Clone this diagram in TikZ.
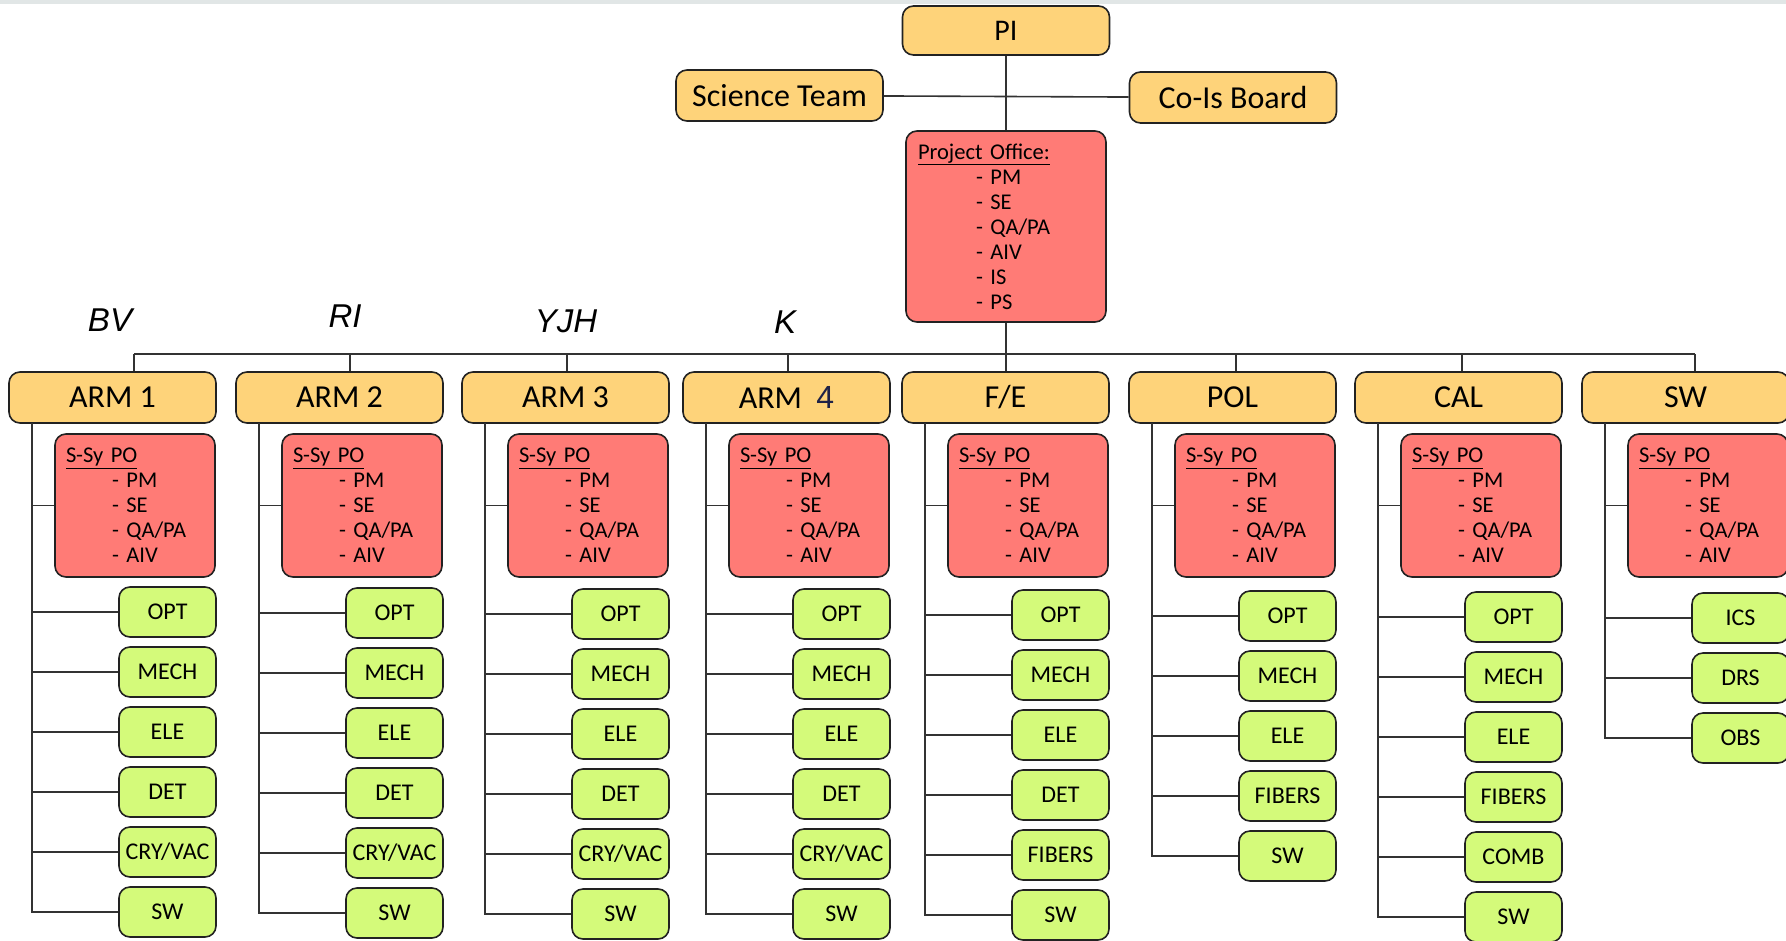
\documentclass[tikz,border=0pt]{standalone}
\usepackage{fontspec}
\setmainfont{Carlito}
\newfontfamily\labfont{Liberation Sans}
\definecolor{yel}{HTML}{FED37A}
\definecolor{redb}{HTML}{FF7B76}
\definecolor{grn}{HTML}{D4FA7A}
\definecolor{edge}{HTML}{222222}
\definecolor{lineclr}{HTML}{333333}
\definecolor{navyfour}{HTML}{1F2247}
\definecolor{topstrip}{HTML}{E1E6E6}
\tikzset{
 box/.style={draw=edge, line width=1.6pt, rounded corners=11pt, inner sep=0pt},
 topbox/.style={box, fill=yel, minimum width=207pt, minimum height=51pt, font=\fontsize{32}{36}\selectfont},
 pobox/.style={box, fill=redb, minimum width=160pt, minimum height=143pt, text width=138pt, align=left, font=\fontsize{22.5}{25}\selectfont},
 leaf/.style={box, fill=grn, minimum width=97pt, minimum height=50pt, font=\fontsize{24}{26}\selectfont},
 conn/.style={draw=lineclr, line width=1.6pt},
 lab/.style={inner sep=0pt, font=\labfont\itshape\fontsize{33}{38}\selectfont},
}
\newcommand\orgcol[6]{%
 \node[topbox] (top#1) at (#2+103.5,397.5) {#4};
 \node[pobox] (po#1) at (#2+126,505.5) {\underline{S-Sy PO}\\\hspace*{46pt}- PM\\\hspace*{46pt}- SE\\\hspace*{46pt}- QA/PA\\\hspace*{46pt}- AIV};
 \coordinate (b#1) at (#3,354);
 \coordinate (v#1) at (#2+23,423);
 \draw[conn] (b#1) -- (b#1 |- top#1.north);
 \draw[conn] (v#1) |- (po#1.west);
 \foreach \t [count=\j] in {#6}{
   \pgfmathsetmacro\gy{612+60*(\j-1)+#5}
   \node[leaf] (g#1-\j) at (#2+158.5,\gy) {\t};
   \draw[conn] (v#1) |- (g#1-\j.west);
 }
}
\begin{document}
\begin{tikzpicture}[x=1pt,y=-1pt]
\useasboundingbox (0,0) rectangle (1786,940);
\clip (0,0) rectangle (1786,940);
\fill[topstrip] (0,0) rectangle (1786,4);

\node[topbox, font=\fontsize{30}{34}\selectfont, minimum height=49pt] (pi) at (1006,30.5) {PI};
\node[topbox] (sci) at (779.5,95.5) {Science Team};
\node[topbox] (cois) at (1233,97.5) {Co-Is Board};
\node[box, fill=redb, minimum width=200pt, minimum height=191pt, text width=176pt, align=left, font=\fontsize{22.5}{25}\selectfont] (office) at (1006,226.5)
 {\underline{Project Office:}\\\hspace*{58pt}- PM\\\hspace*{58pt}- SE\\\hspace*{58pt}- QA/PA\\\hspace*{58pt}- AIV\\\hspace*{58pt}- IS\\\hspace*{58pt}- PS};

\draw[conn] (sci) -- (cois);
\draw[conn] (pi) -- (office);

\node[lab] (lbv) at (110,320) {BV};
\node[lab] (lri) at (345,316) {RI};
\node[lab] (lyjh) at (566,321) {YJH};
\node[lab] (lk) at (785,322) {K};

\orgcol{1}{9}{134}{ARM 1}{0}{OPT,MECH,ELE,DET,CRY/VAC,SW}
\orgcol{2}{236}{350}{ARM 2}{1}{OPT,MECH,ELE,DET,CRY/VAC,SW}
\orgcol{3}{462}{567}{ARM 3}{2}{OPT,MECH,ELE,DET,CRY/VAC,SW}
\orgcol{4}{683}{788}{ARM\hspace{0.45em}\textcolor{navyfour}{\labfont 4}}{2}{OPT,MECH,ELE,DET,CRY/VAC,SW}
\orgcol{5}{902}{1006}{F/E}{3}{OPT,MECH,ELE,DET,FIBERS,SW}
\orgcol{6}{1129}{1236}{POL}{4}{OPT,MECH,ELE,FIBERS,SW}
\orgcol{7}{1355}{1462}{CAL}{5}{OPT,MECH,ELE,FIBERS,COMB,SW}
\orgcol{8}{1582}{1695}{SW}{6}{ICS,DRS,OBS}

\draw[conn] (b1) -- (b8);
\draw[conn] (office.south) -- (office.south |- b5);
\end{tikzpicture}
\end{document}
